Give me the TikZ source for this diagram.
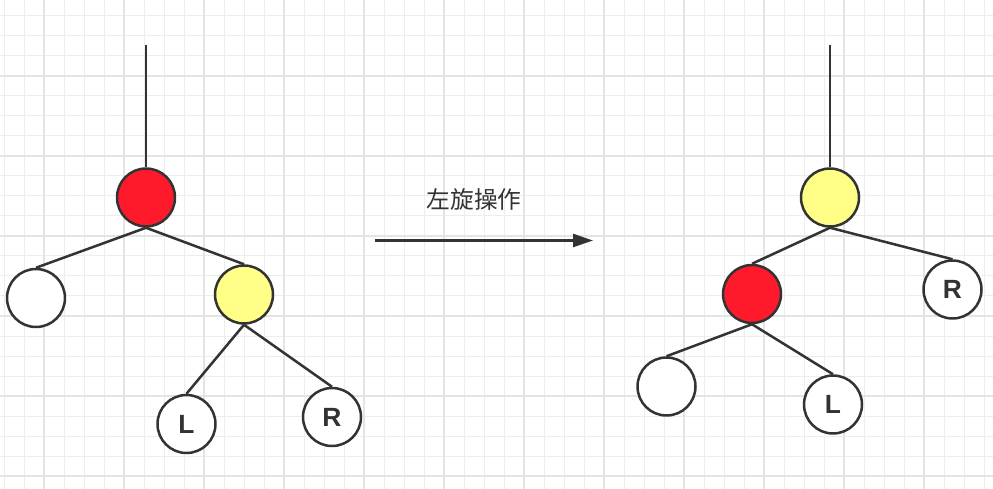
\documentclass[tikz,border=0pt]{standalone}
\usepackage{fontspec}
\setsansfont{Liberation Sans}
\newfontfamily\cjk{Noto Sans CJK SC}
\usetikzlibrary{arrows.meta}
\definecolor{ink}{HTML}{333333}
\definecolor{rbred}{HTML}{FF1A2B}
\definecolor{rbyel}{HTML}{FFFF88}
\definecolor{gminor}{HTML}{EDEDED}
\definecolor{gmajor}{HTML}{E4E4E4}

\begin{document}
\begin{tikzpicture}[x=0.02cm,y=-0.02cm,
        vertex/.style={circle,draw=ink,line width=0.05cm,minimum size=1.16cm,inner sep=0pt,fill=white,
            font=\sffamily\bfseries\fontsize{15}{17}\selectfont,text=ink},
        edge/.style={draw=ink,line width=0.05cm}]
        \useasboundingbox (0,0) rectangle (993,489);
        \fill[white] (0,0) rectangle (993,489);
        % grid
        \foreach \x in {4,24,...,984} \draw[gminor,line width=0.02cm] (\x,0) -- (\x,489);
        \foreach \y in {16,36,...,476} \draw[gminor,line width=0.02cm] (0,\y) -- (993,\y);
        \foreach \x in {44,124,...,924} \draw[gmajor,line width=0.025cm] (\x,0) -- (\x,489);
        \foreach \y in {76,156,...,476} \draw[gmajor,line width=0.025cm] (0,\y) -- (993,\y);
        % before
        \coordinate (t0) at (146,45);
        \node[vertex,fill=rbred] (l0) at (146,197.5){};
        \node[vertex] (l1) at (36,298){};
        \node[vertex,fill=rbyel] (l2) at (244,294.5){};
        \node[vertex] (l3) at (186.5,424){L};
        \node[vertex] (l4) at (332,417){R};
        \draw[edge] (t0) -- (l0.north);
        \draw[edge] (l0.south) -- (l1.north);
        \draw[edge] (l0.south) -- (l2.north);
        \draw[edge] (l2.south) -- (l3.north);
        \draw[edge] (l2.south) -- (l4.north);
        % rotation
        \node[font=\cjk\fontsize{13.5}{16}\selectfont,text=ink] (op) at (474,199) {左旋操作};
        \coordinate (a0) at (375,240.5);
        \coordinate (a1) at (593,240.5);
        \draw[edge,-{Triangle[length=0.4cm,width=0.26cm]}] (a0) -- (a1);
        % after
        \coordinate (t1) at (830,45);
        \node[vertex,fill=rbyel] (r0) at (830,197.5){};
        \node[vertex,fill=rbred] (r1) at (752,294){};
        \node[vertex] (r2) at (952.5,289.5){R};
        \node[vertex] (r3) at (666.5,386.5){};
        \node[vertex] (r4) at (833,404.5){L};
        \draw[edge] (t1) -- (r0.north);
        \draw[edge] (r0.south) -- (r1.north);
        \draw[edge] (r0.south) -- (r2.north);
        \draw[edge] (r1.south) -- (r3.north);
        \draw[edge] (r1.south) -- (r4.north);
    \end{tikzpicture}
\end{document}
